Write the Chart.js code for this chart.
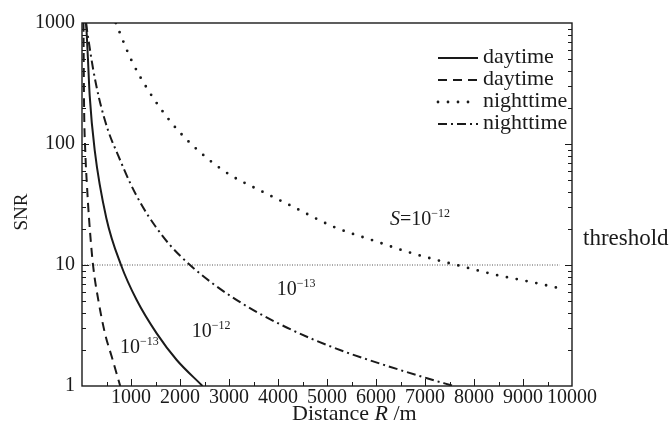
<!DOCTYPE html>
<html>
<head>
<meta charset="utf-8">
<title>SNR vs distance</title>
<script src="https://cdn.jsdelivr.net/npm/chart.js@4.4.1/dist/chart.umd.min.js"></script>
<style>
  html, body { margin: 0; padding: 0; background: #fff; }
  canvas { display: block; }
</style>
</head>
<body>
<canvas id="c" width="671" height="424"></canvas>
<script>
const FONT = "'Liberation Serif', 'Times New Roman', serif";
const INK = '#1a1a1a';

// values (R in m, SNR)
const dayR12 = [85, 122, 157, 259, 496, 796, 1116, 1524, 1933, 2460];
const daySnr12 = [1000, 500, 251, 89, 24.5, 10, 5.13, 2.72, 1.64, 1];

const dayR13 = [30, 41, 67, 102, 143, 225, 333, 469, 606, 780];
const daySnr13 = [1000, 230, 87, 45, 24.4, 10, 5.13, 2.72, 1.75, 1];

const nightR12 = [690, 1006, 1347, 1796, 2184, 2612, 3020, 3633, 4306, 5122, 6014, 6627, 7239, 7647, 8463, 9143, 9755];
const nightSnr12 = [1000, 495, 280, 155, 104, 73, 55.6, 41.3, 30.3, 20.8, 15.6, 12.9, 11.0, 10.0, 8.26, 7.27, 6.41];

const nightR13 = [80, 224, 347, 531, 735, 980, 1224, 1490, 1796, 2204, 2673, 3367, 4041, 4714, 5408, 6082, 7041, 7580];
const nightSnr13 = [1000, 423, 240, 130, 81, 47.9, 31.0, 21.1, 14.6, 10, 7.0, 4.55, 3.24, 2.43, 1.89, 1.53, 1.16, 1];

const thresholdR = [0, 9750];
const thresholdSnr = [10, 10];

const legendLabels = ['daytime', 'daytime', 'nighttime', 'nighttime'];
const xTicks = [1000, 2000, 3000, 4000, 5000, 6000, 7000, 8000, 9000, 10000];
const yTicks = [1, 10, 100, 1000];

// curve labels placed in data coordinates
const notes = [
  { r: 6286, snr: 21.4, italic: 'S', base: '=10', sup: '\u221212' },
  { r: 3973, snr: 5.64, italic: '', base: '10', sup: '\u221213' },
  { r: 2239, snr: 2.55, italic: '', base: '10', sup: '\u221212' },
  { r: 776, snr: 1.86, italic: '', base: '10', sup: '\u221213' },
];

const pts = (xs, ys) => xs.map((v, i) => ({ x: v, y: ys[i] }));

const curve = (label, xs, ys, extra) => Object.assign({
  label,
  data: pts(xs, ys),
  borderColor: INK,
  borderWidth: 2,
  pointRadius: 0,
  fill: false,
  cubicInterpolationMode: 'monotone',
}, extra);

const datasets = [
  curve(legendLabels[0], dayR12, daySnr12, { borderDash: [] }),
  curve(legendLabels[1], dayR13, daySnr13, { borderDash: [9, 6] }),
  curve(legendLabels[2], nightR12, nightSnr12, { borderDash: [0, 10], borderCapStyle: 'round', borderWidth: 2.8 }),
  curve(legendLabels[3], nightR13, nightSnr13, { borderDash: [9, 4, 2, 4] }),
  curve('threshold', thresholdR, thresholdSnr, { borderDash: [1, 1.5], borderWidth: 1, borderColor: '#555' }),
];

function drawSup(ctx, x, y, italic, base, sup) {
  ctx.textBaseline = 'alphabetic';
  ctx.textAlign = 'left';
  let cx = x;
  if (italic) {
    ctx.font = 'italic 20px ' + FONT;
    ctx.fillText(italic, cx, y);
    cx += ctx.measureText(italic).width;
  }
  ctx.font = '20px ' + FONT;
  ctx.fillText(base, cx, y);
  cx += ctx.measureText(base).width;
  ctx.font = '12px ' + FONT;
  ctx.fillText(sup, cx, y - 8);
}

const decor = {
  id: 'decor',
  afterDatasetsDraw(chart) {
    const { ctx, chartArea: a, scales: { x, y } } = chart;
    ctx.save();
    ctx.strokeStyle = INK;
    ctx.fillStyle = INK;
    ctx.setLineDash([]);
    ctx.lineWidth = 1.4;
    ctx.strokeRect(a.left, a.top, a.right - a.left, a.bottom - a.top);

    // tick marks point inwards
    ctx.lineWidth = 1;
    ctx.beginPath();
    for (let v = 500; v < 10000; v += 500) {
      const px = Math.round(x.getPixelForValue(v)) + 0.5;
      const len = v % 1000 === 0 ? 7 : 4;
      ctx.moveTo(px, a.bottom);
      ctx.lineTo(px, a.bottom - len);
    }
    for (let d = 1; d < 1000; d *= 10) {
      for (let m = 1; m < 10; m++) {
        const v = d * m;
        if (v === 1) continue;
        const py = Math.round(y.getPixelForValue(v)) + 0.5;
        const len = m === 1 ? 7 : 4;
        ctx.moveTo(a.left, py);
        ctx.lineTo(a.left + len, py);
        ctx.moveTo(a.right, py);
        ctx.lineTo(a.right - len, py);
      }
    }
    ctx.stroke();

    // axis titles
    ctx.textBaseline = 'alphabetic';
    ctx.textAlign = 'left';
    let tx = 292;
    const ty = 420;
    ctx.font = '22px ' + FONT;
    ctx.fillText('Distance ', tx, ty);
    tx += ctx.measureText('Distance ').width;
    ctx.font = 'italic 22px ' + FONT;
    ctx.fillText('R', tx, ty);
    tx += ctx.measureText('R').width;
    ctx.font = '22px ' + FONT;
    ctx.fillText(' /m', tx, ty);

    ctx.save();
    ctx.translate(27, 212);
    ctx.rotate(-Math.PI / 2);
    ctx.textAlign = 'center';
    ctx.font = '19px ' + FONT;
    ctx.fillText('SNR', 0, 0);
    ctx.restore();

    // legend
    chart.data.datasets.slice(0, 4).forEach((ds, i) => {
      const ly = 58 + i * 22;
      ctx.save();
      ctx.strokeStyle = ds.borderColor;
      ctx.lineWidth = ds.borderWidth;
      ctx.lineCap = ds.borderCapStyle || 'butt';
      ctx.setLineDash(ds.borderDash);
      ctx.beginPath();
      ctx.moveTo(438, ly);
      ctx.lineTo(478, ly);
      ctx.stroke();
      ctx.restore();
      ctx.font = '22px ' + FONT;
      ctx.textBaseline = 'middle';
      ctx.textAlign = 'left';
      ctx.fillText(ds.label, 483, ly - 1);
    });

    // curve notes
    notes.forEach(n => {
      drawSup(ctx, x.getPixelForValue(n.r), y.getPixelForValue(n.snr), n.italic, n.base, n.sup);
    });
    ctx.font = '23px ' + FONT;
    ctx.textBaseline = 'alphabetic';
    ctx.fillText('threshold', 583, 245);
    ctx.restore();
  }
};

new Chart(document.getElementById('c'), {
  type: 'line',
  data: { datasets },
  options: {
    responsive: false,
    animation: false,
    devicePixelRatio: 1,
    layout: { padding: { top: 23, right: 99, left: 0, bottom: 0 } },
    plugins: { legend: { display: false }, tooltip: { enabled: false } },
    scales: {
      x: {
        type: 'linear',
        min: 0,
        max: 10000,
        afterFit: s => { s.height = 38; },
        afterBuildTicks: s => { s.ticks = xTicks.map(v => ({ value: v })); },
        grid: { display: false, drawTicks: false },
        border: { display: false },
        ticks: {
          autoSkip: false,
          maxRotation: 0,
          minRotation: 0,
          padding: 0,
          color: INK,
          font: { family: FONT, size: 20 },
          callback: v => String(v),
        },
      },
      y: {
        type: 'logarithmic',
        min: 1,
        max: 1000,
        afterFit: s => { s.width = 82; },
        afterBuildTicks: s => { s.ticks = yTicks.map(v => ({ value: v })); },
        grid: { display: false, drawTicks: false },
        border: { display: false },
        ticks: {
          autoSkip: false,
          padding: 7,
          color: INK,
          font: { family: FONT, size: 20 },
          callback: v => String(v),
        },
      },
    },
  },
  plugins: [decor],
});
</script>
</body>
</html>
